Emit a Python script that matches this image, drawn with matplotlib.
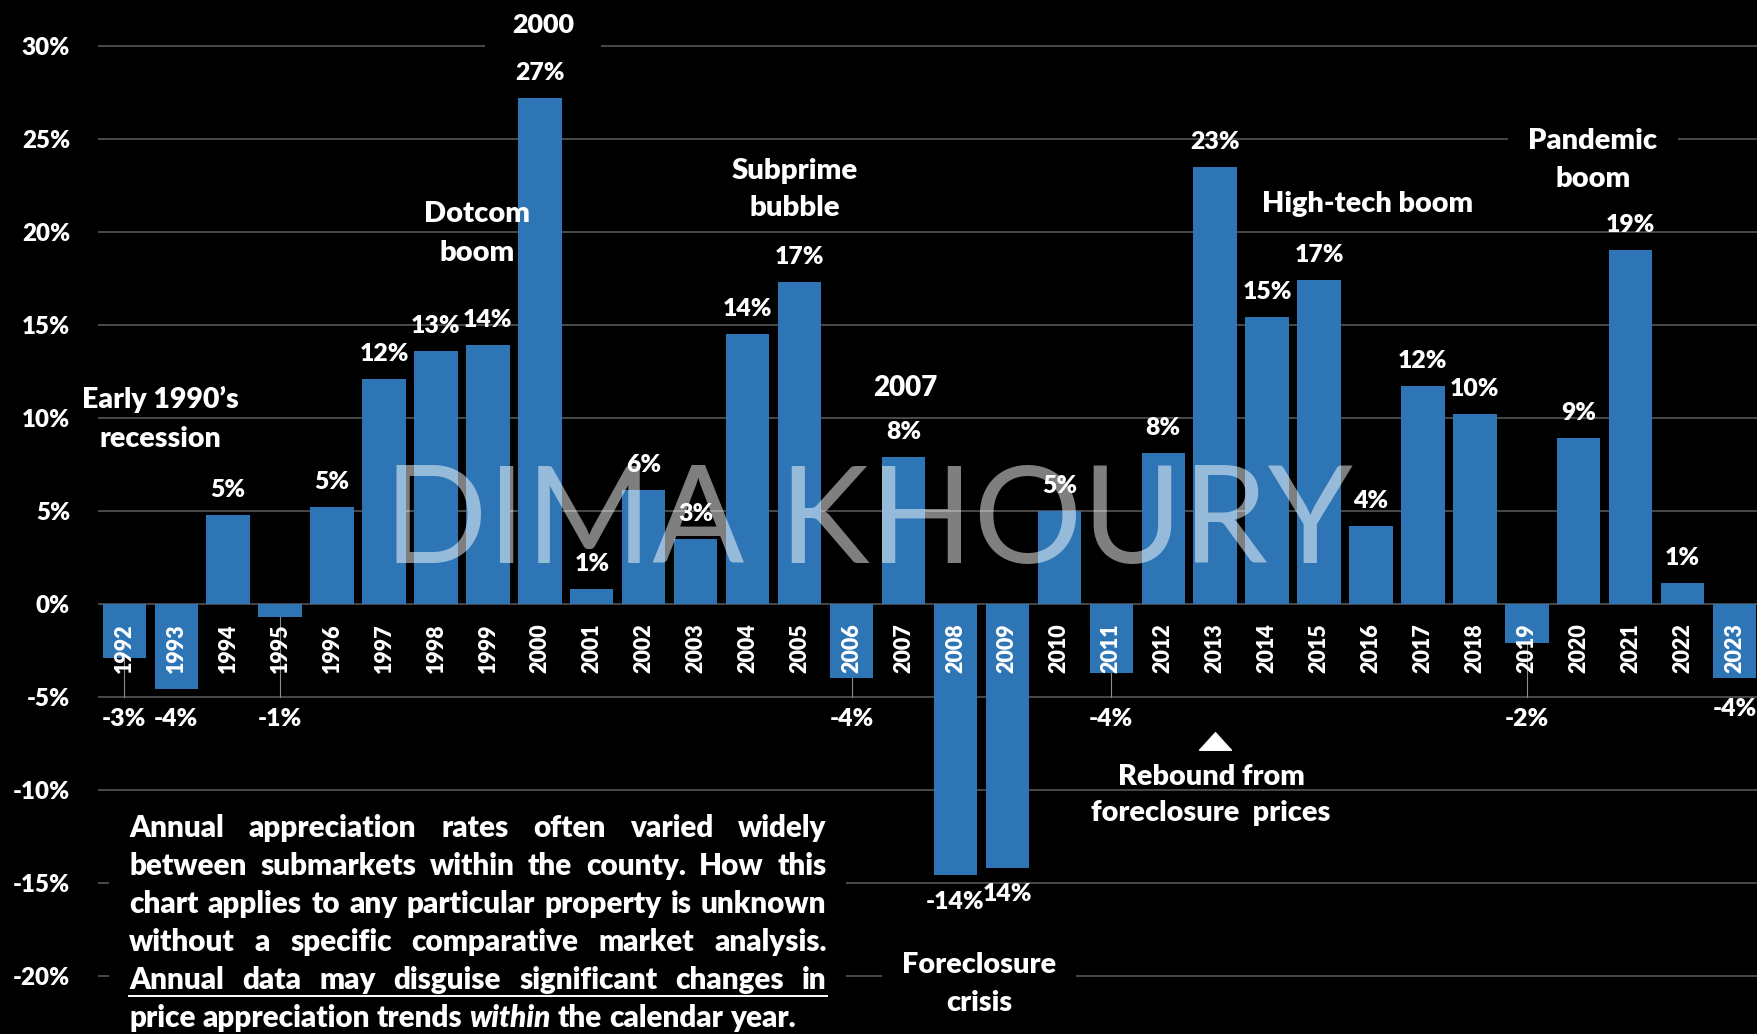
import matplotlib
matplotlib.use("Agg")
import matplotlib.pyplot as plt
from matplotlib.lines import Line2D
from matplotlib.patches import Rectangle
from matplotlib.path import Path

# annual appreciation
years = list(range(1992, 2024))
changes = [-2.9, -4.6, 4.8, -0.7, 5.2, 12.1, 13.6, 13.9, 27.2, 0.8,
           6.1, 3.5, 14.5, 17.3, -4.0, 7.9, -14.6, -14.2, 5.0, -3.7,
           8.1, 23.5, 15.4, 17.4, 4.2, 11.7, 10.2, -2.1, 8.9, 19.0,
           1.1, -4.0]
value_labels = ["-3%", "-4%", "5%", "-1%", "5%", "12%", "13%", "14%", "27%", "1%",
                "6%", "3%", "14%", "17%", "-4%", "8%", "-14%", "14%", "5%", "-4%",
                "8%", "23%", "15%", "17%", "4%", "12%", "10%", "-2%", "9%", "19%",
                "1%", "-4%"]
y_ticks = [-20, -15, -10, -5, 0, 5, 10, 15, 20, 25, 30]

disclaimer = [
    "Annual appreciation rates often varied widely",
    "between submarkets within the county. How this",
    "chart applies to any particular property is unknown",
    "without a specific comparative market analysis.",
    "Annual data may disguise significant changes in",
    "price appreciation trends within the calendar year.",
]

BLUE = "#2E75B6"
GRID = "#4a4a4a"
FW, FH = 1758, 1034
WEIGHT = "heavy"

plt.rcParams["font.family"] = ["Lato", "DejaVu Sans"]
plt.rcParams["font.weight"] = WEIGHT


def fx(px):
    return px / FW


def fy(py):
    return 1 - py / FH


fig = plt.figure(figsize=(FW / 100, FH / 100), dpi=100, facecolor="black")
ax = fig.add_axes([fx(98), 0, 1 - fx(98), 1])
ax.set_facecolor("black")

ax.bar(years, changes, width=0.835, color=BLUE, zorder=1)

ax.set_xlim(1991.494, 2023.45)
ax.set_ylim(-23.12, 32.46)
ax.set_yticks(y_ticks)
ax.set_yticklabels([f"{t}%" for t in y_ticks], fontweight=WEIGHT)
ax.set_xticks([])
ax.tick_params(axis="y", length=0, pad=20, labelcolor="white", labelsize=17.4)
ax.yaxis.grid(True, color=GRID, lw=1.4)
ax.set_axisbelow(True)
for s in ax.spines.values():
    s.set_visible(False)

# year labels inside the bars, value labels above / below
for i, (yr, v, lab) in enumerate(zip(years, changes, value_labels)):
    ax.text(yr, -1.03, str(yr), rotation=90, ha="center", va="top",
            color="white", fontsize=15.5, zorder=7)
    if v >= 0:
        ax.annotate(lab, (yr, v), xytext=(0, 18), textcoords="offset points",
                    ha="center", va="center", color="white", fontsize=17.8, zorder=7)
    elif v < -10:
        ax.annotate(lab, (yr, v), xytext=(0, -19), textcoords="offset points",
                    ha="center", va="center", color="white", fontsize=17.8, zorder=7)
    else:
        ly = -5.65 if i == len(years) - 1 else -6.19
        ax.text(yr, ly, lab, ha="center", va="center", color="white",
                fontsize=17.8, zorder=7)
        if v > -4.5 and i != len(years) - 1:
            ax.plot([yr, yr], [v, -5.0], color="#8c8c8c", lw=0.8, zorder=2)

# watermark
ax.text(fx(868), fy(563), "DIMA KHOURY", transform=fig.transFigure,
        ha="center", va="baseline", fontsize=98, fontweight="normal",
        color="white", alpha=0.5, zorder=4)


def stacked(lines, x, y0, step, size, box_pad=None):
    for k, s in enumerate(lines):
        pos = (fx(x), fy(y0 + k * step))
        if box_pad is not None:
            ax.text(*pos, s, transform=fig.transFigure, ha="center", va="baseline",
                    color="none", fontsize=size, zorder=5.5,
                    bbox=dict(boxstyle=f"square,pad={box_pad}", fc="black", ec="none"))
        ax.text(*pos, s, transform=fig.transFigure, ha="center", va="baseline",
                color="white", fontsize=size, zorder=6)


stacked(["2000"], 543, 33, 0, 19.4, box_pad=1.0)
stacked(["Dotcom", "boom"], 477, 221.7, 39, 21)
stacked(["Early 1990\u2019s", "recession"], 160, 407.7, 39, 20.5)
stacked(["Subprime", "bubble"], 795, 179, 37, 21.2)
stacked(["2007"], 905, 396, 0, 20)
stacked(["High-tech boom"], 1368, 211.7, 0, 20.8)
stacked(["Pandemic", "boom"], 1593, 149, 38.3, 21, box_pad=0.7)
stacked(["Rebound from", "foreclosure  prices"], 1211, 785, 36, 20.8)
stacked(["Foreclosure", "crisis"], 979, 973, 38, 20.8, box_pad=0.7)

tri = Path([(-1, -0.55), (1, -0.55), (0, 0.55), (-1, -0.55)])
ax.plot([2013], [-7.37], marker=tri, ms=23, color="white", zorder=6)

# disclaimer block, justified like the original text box
ax.add_patch(Rectangle((fx(109), 0), fx(846) - fx(109), fy(803),
                       transform=fig.transFigure, fc="black", ec="none",
                       zorder=4, clip_on=False))
renderer = fig.canvas.get_renderer()
left, right = 129.3, 826.6

# size the block so the last (unjustified) line is as long as in the original
size = 18.4
probe = fig.text(0, 0, disclaimer[-1], fontsize=size)
size = size * 671 / probe.get_window_extent(renderer).width
probe.remove()
probe = fig.text(0, 0, "a a", fontsize=size)
probe2 = fig.text(0, 0, "aa", fontsize=size)
space_w = probe.get_window_extent(renderer).width - probe2.get_window_extent(renderer).width
probe.remove()
probe2.remove()

for k, line in enumerate(disclaimer):
    base = 836.7 + k * 38.1
    words = line.split()
    objs = []
    for w in words:
        style = "italic" if w == "within" and k == len(disclaimer) - 1 else "normal"
        t = ax.text(0, 0, w, transform=fig.transFigure, ha="left", va="baseline",
                    color="white", fontsize=size, fontstyle=style, zorder=6)
        objs.append(t)
    widths = [t.get_window_extent(renderer).width for t in objs]
    if k < len(disclaimer) - 1:
        gap = (right - left - sum(widths)) / (len(words) - 1)
    else:
        gap = space_w
    x = left
    for t, wd in zip(objs, widths):
        t.set_position((fx(x), fy(base)))
        x += wd + gap
    if k == 4:
        fig.add_artist(Line2D([fx(left), fx(right)], [fy(base + 7), fy(base + 7)],
                              color="white", lw=1.4, zorder=7))

fig.savefig("out.png", dpi=100, facecolor="black")
